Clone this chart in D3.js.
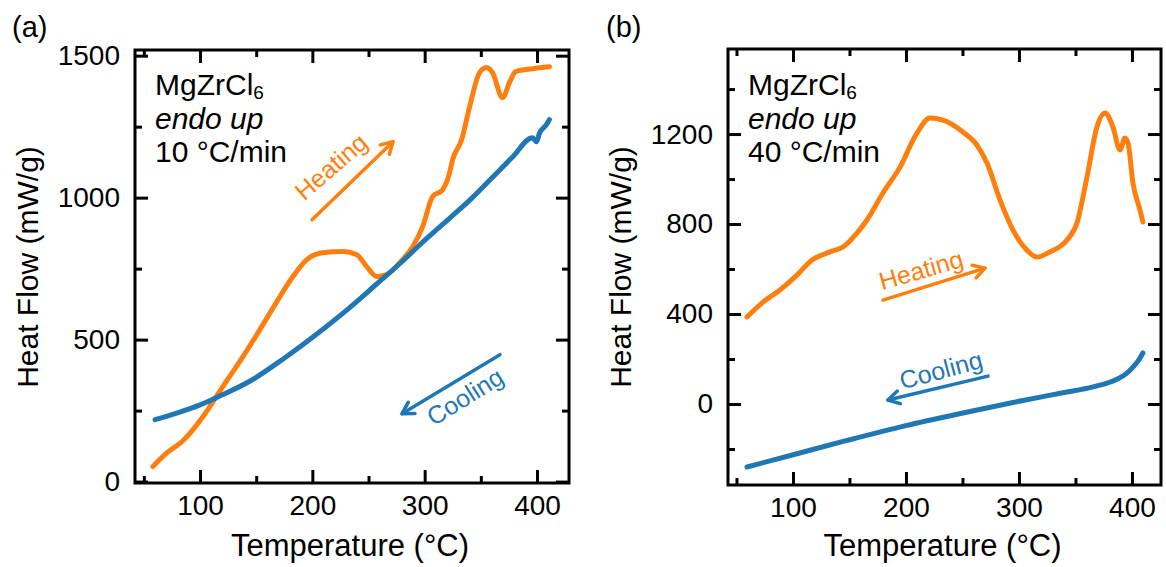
<!DOCTYPE html>
<html>
<head>
<meta charset="utf-8">
<script src="https://cdn.jsdelivr.net/npm/d3@7"></script>
<style>
  body { margin: 0; background: #fff; }
  svg { display: block; }
  text { font-family: "Liberation Sans", Arial, Helvetica, sans-serif; }
</style>
</head>
<body>
<svg id="chart" width="1166" height="567"></svg>
<script>
// panel (a): 10 C/min
const heatTempA = [58, 70.7, 84, 93.8, 102.7, 120.4, 138.2, 153.3, 168.4, 182.7, 195.1, 209.3, 227.1, 239.6, 248.4, 257.3, 266.2, 277.8, 289.3, 298.2, 307.1, 316, 322.2, 324.9, 332.9, 340, 348.9, 355.1, 360.4, 369.3, 376, 381, 396, 411.1];
const heatFlowA = [53, 102, 141, 183, 229, 335, 440, 535, 634, 722, 782, 806, 810, 799, 757, 722, 729, 771, 827, 898, 1004, 1028, 1088, 1134, 1204, 1320, 1440, 1458, 1440, 1352, 1410, 1444, 1454, 1461];
const coolTempA = [60, 80, 100, 118, 145, 174, 204, 233, 257, 278, 296, 320, 343, 360, 378, 396, 399.6, 402, 408.4, 411.1];
const coolFlowA = [218, 242, 270, 302, 355, 432, 520, 612, 695, 768, 835, 920, 1002, 1070, 1142, 1211, 1197, 1225, 1257, 1275];

// panel (b): 40 C/min
const heatTempB = [59.3, 73.5, 88.5, 103.5, 116.8, 132.7, 144.2, 156.6, 165.5, 179.6, 194.7, 209.7, 221.2, 232.7, 250.4, 262.8, 271.7, 283.2, 294.7, 307.1, 315.9, 327.4, 342.5, 351.3, 360.2, 369, 376.1, 383.2, 389.4, 393.8, 396.5, 400.9, 407.1, 409.7];
const heatFlowB = [387, 453, 507, 573, 640, 676, 698, 760, 818, 938, 1053, 1204, 1271, 1262, 1209, 1151, 1071, 907, 773, 684, 653, 676, 729, 804, 1009, 1231, 1293, 1231, 1129, 1182, 1160, 982, 862, 809];
const coolTempB = [59.3, 103.5, 147.8, 200.9, 250.4, 294.7, 338.9, 365.5, 386.7, 395, 400.9, 405.5, 409.7];
const coolFlowB = [-280, -221, -162, -95, -40, 7, 50, 76, 110, 135, 164, 192, 227];

const xMajor = [100, 200, 300, 400];
const xMinor = [50, 150, 250, 350];
const yMajorA = [0, 500, 1000, 1500];
const yMinorA = [250, 750, 1250];
const yMajorB = [0, 400, 800, 1200];
const yMinorB = [-200, 200, 600, 1000, 1400];

const ORANGE = "#ff7f0e", BLUE = "#1f77b4";
const svg = d3.select("#chart");

const panels = [
  {
    tag: "(a)", tagX: 12, rate: "10 \u00B0C/min",
    left: 135, right: 569, top: 50, bottom: 483,
    xDomain: [42.1, 428.5], yDomain: [-5, 1520],
    yMajor: yMajorA, yMinor: yMinorA,
    heat: [heatTempA, heatFlowA], cool: [coolTempA, coolFlowA],
    heatArrow: [[199.7, 922], [271.8, 1197]], heatText: [216.6, 1109], heatRot: -41,
    coolArrow: [[367, 447], [279.8, 239]], coolText: [335.9, 299], coolRot: -32
  },
  {
    tag: "(b)", tagX: 606, rate: "40 \u00B0C/min",
    left: 728, right: 1161, top: 49, bottom: 485,
    xDomain: [42.5, 425.7], yDomain: [-360, 1578],
    yMajor: yMajorB, yMinor: yMinorB,
    heat: [heatTempB, heatFlowB], cool: [coolTempB, coolFlowB],
    heatArrow: [[179.6, 462], [269.9, 604]], heatText: [213.3, 596], heatRot: -16,
    coolArrow: [[272.6, 124], [184, 18]], coolText: [231, 151], coolRot: -15
  }
];

function styleAxis(sel, fontSize) {
  sel.select(".domain").remove();
  sel.selectAll(".tick line").attr("stroke", "#000").attr("stroke-width", 3);
  sel.selectAll(".tick text").attr("fill", "#000");
  sel.attr("font-size", fontSize).attr("font-family", null);
}

function arrow(g, x, y, from, to, color) {
  const x1 = x(from[0]), y1 = y(from[1]), x2 = x(to[0]), y2 = y(to[1]);
  const a = Math.atan2(y2 - y1, x2 - x1);
  const h = 13, spread = Math.PI / 6;
  g.append("line")
    .attr("x1", x1).attr("y1", y1).attr("x2", x2).attr("y2", y2)
    .attr("stroke", color).attr("stroke-width", 3.5).attr("stroke-linecap", "round");
  g.append("path")
    .attr("d", `M${x2 - h * Math.cos(a - spread)},${y2 - h * Math.sin(a - spread)} L${x2},${y2} L${x2 - h * Math.cos(a + spread)},${y2 - h * Math.sin(a + spread)}`)
    .attr("fill", "none").attr("stroke", color).attr("stroke-width", 3.5)
    .attr("stroke-linecap", "round").attr("stroke-linejoin", "round");
}

panels.forEach(p => {
  const x = d3.scaleLinear().domain(p.xDomain).range([p.left, p.right]);
  const y = d3.scaleLinear().domain(p.yDomain).range([p.bottom, p.top]);
  const g = svg.append("g");

  // ticks, all pointing inward
  g.append("g").attr("transform", `translate(0,${p.bottom})`)
    .call(d3.axisBottom(x).tickValues(xMajor).tickSize(-13).tickPadding(12).tickFormat(d3.format("d")))
    .call(s => styleAxis(s, 28));
  g.append("g").attr("transform", `translate(0,${p.bottom})`)
    .call(d3.axisBottom(x).tickValues(xMinor).tickSize(-7).tickFormat(""))
    .call(s => styleAxis(s, 28));
  g.append("g").attr("transform", `translate(0,${p.top})`)
    .call(d3.axisTop(x).tickValues(xMajor).tickSize(-13).tickFormat(""))
    .call(s => styleAxis(s, 28));
  g.append("g").attr("transform", `translate(0,${p.top})`)
    .call(d3.axisTop(x).tickValues(xMinor).tickSize(-7).tickFormat(""))
    .call(s => styleAxis(s, 28));
  g.append("g").attr("transform", `translate(${p.left},0)`)
    .call(d3.axisLeft(y).tickValues(p.yMajor).tickSize(-13).tickPadding(15).tickFormat(d3.format("d")))
    .call(s => styleAxis(s, 28));
  g.append("g").attr("transform", `translate(${p.left},0)`)
    .call(d3.axisLeft(y).tickValues(p.yMinor).tickSize(-7).tickFormat(""))
    .call(s => styleAxis(s, 28));
  g.append("g").attr("transform", `translate(${p.right},0)`)
    .call(d3.axisRight(y).tickValues(p.yMajor).tickSize(-13).tickFormat(""))
    .call(s => styleAxis(s, 28));
  g.append("g").attr("transform", `translate(${p.right},0)`)
    .call(d3.axisRight(y).tickValues(p.yMinor).tickSize(-7).tickFormat(""))
    .call(s => styleAxis(s, 28));

  // data
  const line = d3.line().x(d => x(d[0])).y(d => y(d[1])).curve(d3.curveMonotoneX);
  const cool = p.cool[0].map((t, i) => [t, p.cool[1][i]]);
  const heat = p.heat[0].map((t, i) => [t, p.heat[1][i]]);
  g.append("path").datum(heat).attr("d", line)
    .attr("fill", "none").attr("stroke", ORANGE).attr("stroke-width", 5)
    .attr("stroke-linecap", "round").attr("stroke-linejoin", "round");
  g.append("path").datum(cool).attr("d", line)
    .attr("fill", "none").attr("stroke", BLUE).attr("stroke-width", 5)
    .attr("stroke-linecap", "round").attr("stroke-linejoin", "round");

  // frame
  g.append("rect")
    .attr("x", p.left).attr("y", p.top)
    .attr("width", p.right - p.left).attr("height", p.bottom - p.top)
    .attr("fill", "none").attr("stroke", "#000").attr("stroke-width", 3);

  // axis titles
  g.append("text")
    .attr("x", (p.left + p.right) / 2 - 2).attr("y", 556)
    .attr("text-anchor", "middle").attr("font-size", 31)
    .text("Temperature (\u00B0C)");
  g.append("text")
    .attr("transform", `translate(${p.left - 97},267) rotate(-90)`)
    .attr("text-anchor", "middle").attr("font-size", 30)
    .text("Heat Flow (mW/g)");

  // panel tag
  g.append("text").attr("x", p.tagX).attr("y", 37).attr("font-size", 29).text(p.tag);

  // sample notes
  const note = g.append("text").attr("x", p.left + 20).attr("y", 95).attr("font-size", 30);
  note.append("tspan").text("MgZrCl");
  note.append("tspan").attr("font-size", 19).attr("dy", 4).text("6");
  g.append("text").attr("x", p.left + 20).attr("y", 129).attr("font-size", 30)
    .attr("font-style", "italic").text("endo up");
  g.append("text").attr("x", p.left + 20).attr("y", 162).attr("font-size", 30).text(p.rate);

  // heating / cooling markers
  arrow(g, x, y, p.heatArrow[0], p.heatArrow[1], ORANGE);
  arrow(g, x, y, p.coolArrow[0], p.coolArrow[1], BLUE);
  g.append("text")
    .attr("transform", `translate(${x(p.heatText[0])},${y(p.heatText[1])}) rotate(${p.heatRot})`)
    .attr("text-anchor", "middle").attr("dy", "0.35em").attr("font-size", 25)
    .attr("fill", ORANGE).text("Heating");
  g.append("text")
    .attr("transform", `translate(${x(p.coolText[0])},${y(p.coolText[1])}) rotate(${p.coolRot})`)
    .attr("text-anchor", "middle").attr("dy", "0.35em").attr("font-size", 25)
    .attr("fill", BLUE).text("Cooling");
});
</script>
</body>
</html>
